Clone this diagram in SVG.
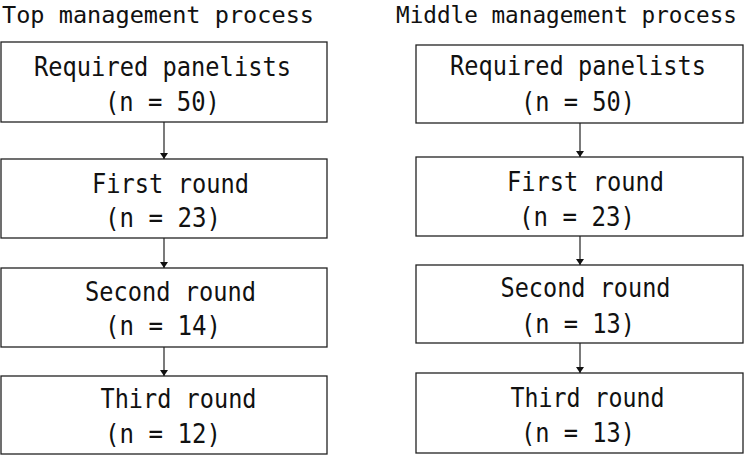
<svg xmlns="http://www.w3.org/2000/svg" width="750" height="456" viewBox="0 0 750 456">
<style>
text{font-family:"DejaVu Sans Mono","Liberation Mono",monospace;font-size:26.5px;fill:#111}
text.title{font-size:23px}
.box{fill:#fff;stroke:#222;stroke-width:1.3}
.con line{stroke:#222;stroke-width:1.2}
</style>
<defs>
<marker id="ah" markerWidth="6" markerHeight="8" refX="6" refY="4" orient="auto" markerUnits="userSpaceOnUse" viewBox="0 0 6 8">
<path d="M0,0 L6,4 L0,8 Z" fill="#111"/>
</marker>
</defs>
<rect width="750" height="456" fill="#fff"/>
<g id="title-top"><text class="title" x="2" y="23" textLength="312" lengthAdjust="spacingAndGlyphs">Top management process</text></g>
<g id="title-middle"><text class="title" x="396" y="23" textLength="341" lengthAdjust="spacingAndGlyphs">Middle management process</text></g>

<g id="top-required"><rect class="box" x="1" y="42" width="326" height="80"/>
<text x="34" y="76" textLength="257" lengthAdjust="spacingAndGlyphs">Required panelists</text>
<text x="105" y="111" textLength="115" lengthAdjust="spacingAndGlyphs">(n = 50)</text></g>
<g id="top-first"><rect class="box" x="1" y="159" width="326" height="79"/>
<text x="92" y="193" textLength="157" lengthAdjust="spacingAndGlyphs">First round</text>
<text x="105" y="227" textLength="116" lengthAdjust="spacingAndGlyphs">(n = 23)</text></g>
<g id="top-second"><rect class="box" x="1" y="268" width="326" height="79"/>
<text x="85" y="301" textLength="171" lengthAdjust="spacingAndGlyphs">Second round</text>
<text x="105" y="335" textLength="116" lengthAdjust="spacingAndGlyphs">(n = 14)</text></g>
<g id="top-third"><rect class="box" x="1" y="376" width="326" height="78"/>
<text x="100.5" y="408" textLength="156" lengthAdjust="spacingAndGlyphs">Third round</text>
<text x="105" y="443" textLength="116" lengthAdjust="spacingAndGlyphs">(n = 12)</text></g>

<g id="mid-required"><rect class="box" x="416" y="45" width="327" height="78"/>
<text x="450" y="75" textLength="256" lengthAdjust="spacingAndGlyphs">Required panelists</text>
<text x="521" y="111" textLength="114" lengthAdjust="spacingAndGlyphs">(n = 50)</text></g>
<g id="mid-first"><rect class="box" x="416" y="157" width="327" height="79"/>
<text x="507" y="191" textLength="157" lengthAdjust="spacingAndGlyphs">First round</text>
<text x="519" y="226" textLength="116" lengthAdjust="spacingAndGlyphs">(n = 23)</text></g>
<g id="mid-second"><rect class="box" x="416" y="265" width="327" height="78"/>
<text x="500.5" y="297" textLength="170" lengthAdjust="spacingAndGlyphs">Second round</text>
<text x="521" y="333" textLength="114" lengthAdjust="spacingAndGlyphs">(n = 13)</text></g>
<g id="mid-third"><rect class="box" x="416" y="373" width="327" height="80"/>
<text x="510.5" y="407" textLength="154" lengthAdjust="spacingAndGlyphs">Third round</text>
<text x="521" y="442" textLength="114" lengthAdjust="spacingAndGlyphs">(n = 13)</text></g>

<g id="connectors" class="con">
<line x1="164" y1="122" x2="164" y2="159" marker-end="url(#ah)"/>
<line x1="164" y1="238" x2="164" y2="268" marker-end="url(#ah)"/>
<line x1="164" y1="347" x2="164" y2="376" marker-end="url(#ah)"/>
<line x1="580" y1="123" x2="580" y2="157" marker-end="url(#ah)"/>
<line x1="580" y1="236" x2="580" y2="265" marker-end="url(#ah)"/>
<line x1="580" y1="343" x2="580" y2="373" marker-end="url(#ah)"/>
</g>
</svg>
